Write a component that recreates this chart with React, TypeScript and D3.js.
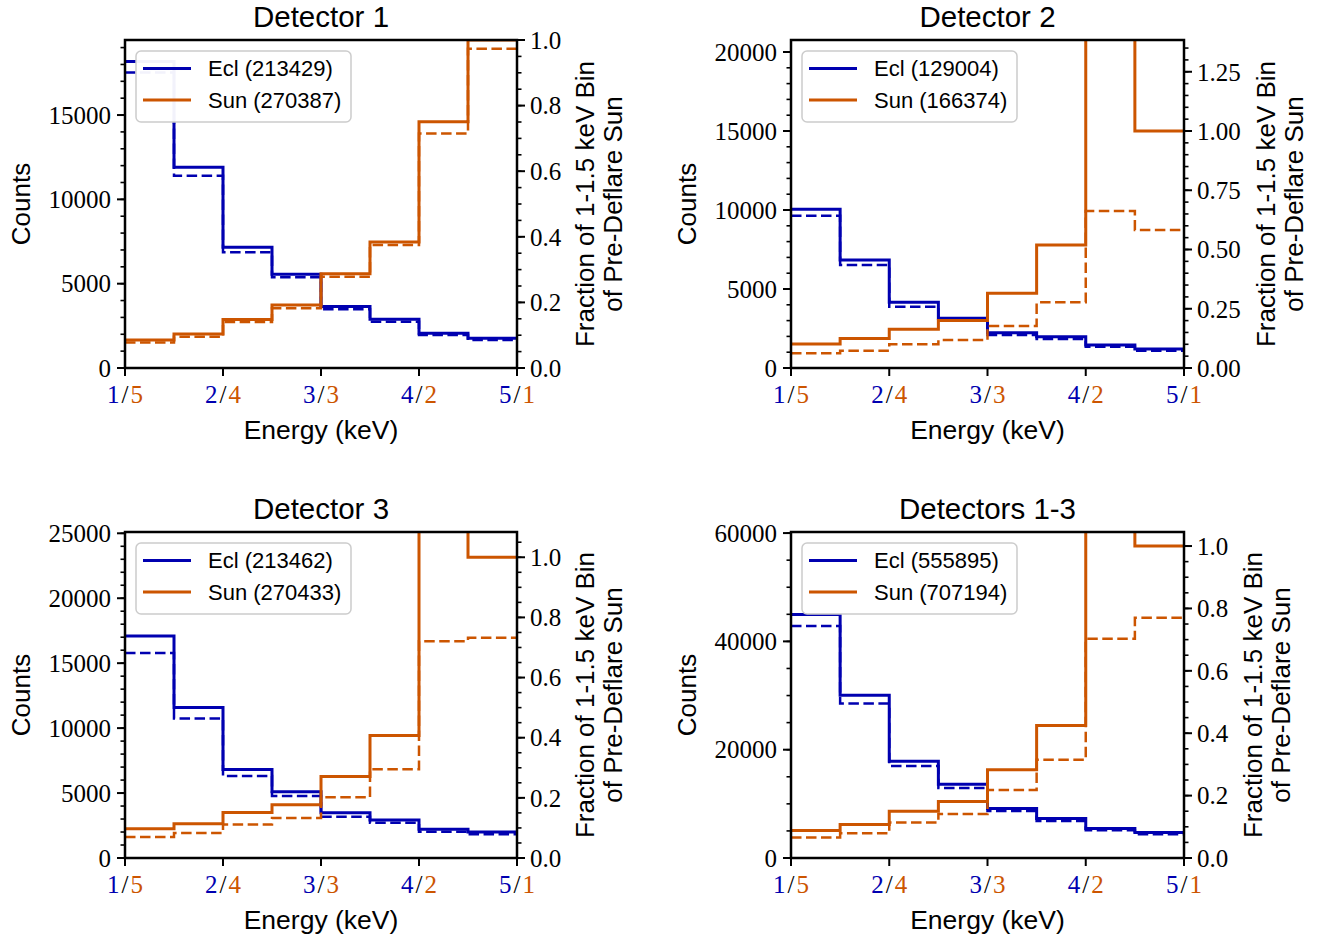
import React from "react";
import * as d3 from "d3";

const W = 1323;
const H = 938;
const BLUE = "#0000b0";
const ORANGE = "#cc5500";
const SANS = "'Liberation Sans', Arial, Helvetica, sans-serif";
const SERIF = "'Liberation Serif', 'Times New Roman', serif";

// Energy bin edges (Ecl energy, keV); Sun energy runs reversed
const BIN_EDGES = [1, 1.5, 2, 2.5, 3, 3.5, 4, 4.5, 5];
const X_TICKS = [1, 2, 3, 4, 5];
const ECL_TICK_LABELS = ["1", "2", "3", "4", "5"];
const SUN_TICK_LABELS = ["5", "4", "3", "2", "1"];

const TITLES = ["Detector 1", "Detector 2", "Detector 3", "Detectors 1-3"];
const ECL_LEGEND = ["Ecl (213429)", "Ecl (129004)", "Ecl (213462)", "Ecl (555895)"];
const SUN_LEGEND = ["Sun (270387)", "Sun (166374)", "Sun (270433)", "Sun (707194)"];

// Detector 1
const det1EclSolid = [18170, 11900, 7160, 5560, 3640, 2890, 2060, 1760];
const det1EclDashed = [17530, 11400, 6860, 5380, 3480, 2750, 1960, 1660];
const det1SunSolid = [0.085, 0.104, 0.148, 0.192, 0.287, 0.384, 0.751, 1.0];
const det1SunDashed = [0.078, 0.095, 0.14, 0.182, 0.278, 0.375, 0.715, 0.973];

// Detector 2
const det2EclSolid = [10045, 6835, 4160, 3145, 2230, 1980, 1455, 1200];
const det2EclDashed = [9640, 6520, 3880, 2990, 2090, 1835, 1350, 1095];
const det2SunSolid = [0.101, 0.125, 0.163, 0.2, 0.315, 0.519, 1.6, 1.0];
const det2SunDashed = [0.062, 0.073, 0.1, 0.118, 0.177, 0.277, 0.662, 0.582];

// Detector 3
const det3EclSolid = [17100, 11590, 6820, 5100, 3490, 2920, 2210, 2000];
const det3EclDashed = [15790, 10750, 6310, 4770, 3180, 2720, 2020, 1820];
const det3SunSolid = [0.097, 0.114, 0.151, 0.177, 0.271, 0.407, 1.3, 1.0];
const det3SunDashed = [0.07, 0.083, 0.111, 0.133, 0.202, 0.295, 0.721, 0.732];

// Detectors 1-3
const detAllEclSolid = [44950, 30050, 17860, 13610, 9120, 7280, 5430, 4690];
const detAllEclDashed = [42840, 28510, 16990, 12930, 8680, 6830, 5120, 4380];
const detAllSunSolid = [0.088, 0.107, 0.15, 0.181, 0.283, 0.425, 1.3, 1.0];
const detAllSunDashed = [0.066, 0.079, 0.114, 0.141, 0.218, 0.315, 0.703, 0.77];

// Axis limits / tick steps
const LEFT_MAX = [19450, 20760, 25100, 60200];
const LEFT_MAJOR = [5000, 5000, 5000, 20000];
const LEFT_MINOR = [1000, 1000, 1000, 5000];
const RIGHT_MAX = [1.0, 1.384, 1.084, 1.045];
const RIGHT_MAJOR = [0.2, 0.25, 0.2, 0.2];
const RIGHT_MINOR = [0.05, 0.05, 0.05, 0.05];
const RIGHT_FMT = [".1f", ".2f", ".1f", ".1f"];

const SERIES = [
  [det1EclSolid, det1EclDashed, det1SunSolid, det1SunDashed],
  [det2EclSolid, det2EclDashed, det2SunSolid, det2SunDashed],
  [det3EclSolid, det3EclDashed, det3SunSolid, det3SunDashed],
  [detAllEclSolid, detAllEclDashed, detAllSunSolid, detAllSunDashed],
];

// layout (pixel boxes of each plot area)
const BOXES = [
  { x0: 125, x1: 517, y0: 40, y1: 368, rOff: [68, 96] },
  { x0: 791, x1: 1184, y0: 40, y1: 368, rOff: [82, 110] },
  { x0: 125, x1: 517, y0: 532, y1: 858, rOff: [68, 96] },
  { x0: 791, x1: 1184, y0: 532, y1: 858, rOff: [69, 97] },
];

function tickRange(max: number, step: number) {
  const n = Math.floor(max / step + 1e-6);
  return d3.range(0, n + 1).map((i) => +(i * step).toFixed(6));
}

function Panel({ idx }: { idx: number }) {
  const b = BOXES[idx];
  const xs = d3.scaleLinear().domain([1, 5]).range([b.x0, b.x1]);
  const yl = d3.scaleLinear().domain([0, LEFT_MAX[idx]]).range([b.y1, b.y0]);
  const yr = d3.scaleLinear().domain([0, RIGHT_MAX[idx]]).range([b.y1, b.y0]);
  const [eS, eD, sS, sD] = SERIES[idx];
  const pts = (vals: number[]) =>
    [...vals.map((v, i) => [BIN_EDGES[i], v] as [number, number]), [BIN_EDGES[BIN_EDGES.length - 1], vals[vals.length - 1]] as [number, number]];
  const mk = (scale: d3.ScaleLinear<number, number>) =>
    d3
      .line<[number, number]>()
      .x((d) => xs(d[0]))
      .y((d) => scale(d[1]))
      .curve(d3.curveStepAfter);
  const clipId = `clip${idx}`;
  const lMaj = tickRange(LEFT_MAX[idx], LEFT_MAJOR[idx]);
  const lMin = tickRange(LEFT_MAX[idx], LEFT_MINOR[idx]);
  const rMaj = tickRange(RIGHT_MAX[idx], RIGHT_MAJOR[idx]);
  const rMin = tickRange(RIGHT_MAX[idx], RIGHT_MINOR[idx]);
  const fmt = d3.format(RIGHT_FMT[idx]);
  const cx = (b.x0 + b.x1) / 2;
  const cy = (b.y0 + b.y1) / 2;
  const lgX = b.x0 + 11;
  const lgY = b.y0 + 11;
  const dash = "10.5,4.5";
  return (
    <g>
      <defs>
        <clipPath id={clipId}>
          <rect x={b.x0} y={b.y0} width={b.x1 - b.x0} height={b.y1 - b.y0} />
        </clipPath>
      </defs>
      <g clipPath={`url(#${clipId})`} fill="none" strokeLinejoin="miter" strokeLinecap="butt">
        <path d={mk(yl)(pts(eS)) || ""} stroke={BLUE} strokeWidth={3} />
        <path d={mk(yl)(pts(eD)) || ""} stroke={BLUE} strokeWidth={2.5} strokeDasharray={dash} />
        <path d={mk(yr)(pts(sS)) || ""} stroke={ORANGE} strokeWidth={3} />
        <path d={mk(yr)(pts(sD)) || ""} stroke={ORANGE} strokeWidth={2.5} strokeDasharray={dash} />
      </g>
      {/* legend */}
      <rect x={lgX} y={lgY} width={215} height={71} rx={5} fill="white" fillOpacity={0.95} stroke="#cccccc" strokeWidth={1.5} />
      <line x1={lgX + 7} x2={lgX + 55} y1={lgY + 17.5} y2={lgY + 17.5} stroke={BLUE} strokeWidth={3} />
      <line x1={lgX + 7} x2={lgX + 55} y1={lgY + 49} y2={lgY + 49} stroke={ORANGE} strokeWidth={3} />
      <text x={lgX + 72} y={lgY + 25} fontFamily={SANS} fontSize={22} fill="#000">{ECL_LEGEND[idx]}</text>
      <text x={lgX + 72} y={lgY + 57} fontFamily={SANS} fontSize={22} fill="#000">{SUN_LEGEND[idx]}</text>
      {/* spines */}
      <rect x={b.x0} y={b.y0} width={b.x1 - b.x0} height={b.y1 - b.y0} fill="none" stroke="#000" strokeWidth={2.5} />
      {/* left ticks */}
      {lMin.map((v) => (
        <line key={"lm" + v} x1={b.x0} x2={b.x0 - 4.5} y1={yl(v)} y2={yl(v)} stroke="#000" strokeWidth={1.6} />
      ))}
      {lMaj.map((v) => (
        <g key={"lM" + v}>
          <line x1={b.x0} x2={b.x0 - 8} y1={yl(v)} y2={yl(v)} stroke="#000" strokeWidth={2} />
          <text x={b.x0 - 14} y={yl(v)} dy="0.35em" textAnchor="end" fontFamily={SERIF} fontSize={25} fill="#000">
            {String(v)}
          </text>
        </g>
      ))}
      {/* right ticks */}
      {rMin.map((v) => (
        <line key={"rm" + v} x1={b.x1} x2={b.x1 + 4.5} y1={yr(v)} y2={yr(v)} stroke="#000" strokeWidth={1.6} />
      ))}
      {rMaj.map((v) => (
        <g key={"rM" + v}>
          <line x1={b.x1} x2={b.x1 + 8} y1={yr(v)} y2={yr(v)} stroke="#000" strokeWidth={2} />
          <text x={b.x1 + 13} y={yr(v)} dy="0.35em" textAnchor="start" fontFamily={SERIF} fontSize={25} fill="#000">
            {fmt(v)}
          </text>
        </g>
      ))}
      {/* bottom ticks */}
      {X_TICKS.map((v, i) => (
        <g key={"x" + v}>
          <line x1={xs(v)} x2={xs(v)} y1={b.y1} y2={b.y1 + 8} stroke="#000" strokeWidth={2} />
          <text x={xs(v)} y={b.y1 + 35} textAnchor="middle" fontFamily={SERIF} fontSize={25}>
            <tspan fill={BLUE}>{ECL_TICK_LABELS[i]}</tspan>
            <tspan fill="#000" dx={2}>/</tspan>
            <tspan fill={ORANGE} dx={2}>{SUN_TICK_LABELS[i]}</tspan>
          </text>
        </g>
      ))}
      {/* labels */}
      <text x={cx} y={b.y0 - 13} textAnchor="middle" fontFamily={SANS} fontSize={29.5} fill="#000">
        {TITLES[idx]}
      </text>
      <text x={cx} y={b.y1 + 71} textAnchor="middle" fontFamily={SANS} fontSize={26.5} fill="#000">
        Energy (keV)
      </text>
      <text
        transform={`translate(${b.x0 - 104},${cy}) rotate(-90)`}
        textAnchor="middle"
        dominantBaseline="central"
        fontFamily={SANS}
        fontSize={26}
        fill="#000"
      >
        Counts
      </text>
      <text
        transform={`translate(${b.x1 + b.rOff[0]},${cy}) rotate(-90)`}
        textAnchor="middle"
        dominantBaseline="central"
        fontFamily={SANS}
        fontSize={26}
        fill="#000"
      >
        Fraction of 1-1.5 keV Bin
      </text>
      <text
        transform={`translate(${b.x1 + b.rOff[1]},${cy}) rotate(-90)`}
        textAnchor="middle"
        dominantBaseline="central"
        fontFamily={SANS}
        fontSize={26}
        fill="#000"
      >
        of Pre-Deflare Sun
      </text>
    </g>
  );
}

export default function App() {
  return (
    <svg
      width={W}
      height={H}
      viewBox={`0 0 ${W} ${H}`}
      style={{ position: "absolute", left: 0, top: 0, background: "#fff" }}
    >
      <rect x={0} y={0} width={W} height={H} fill="#fff" />
      {[0, 1, 2, 3].map((i) => (
        <Panel key={i} idx={i} />
      ))}
    </svg>
  );
}
